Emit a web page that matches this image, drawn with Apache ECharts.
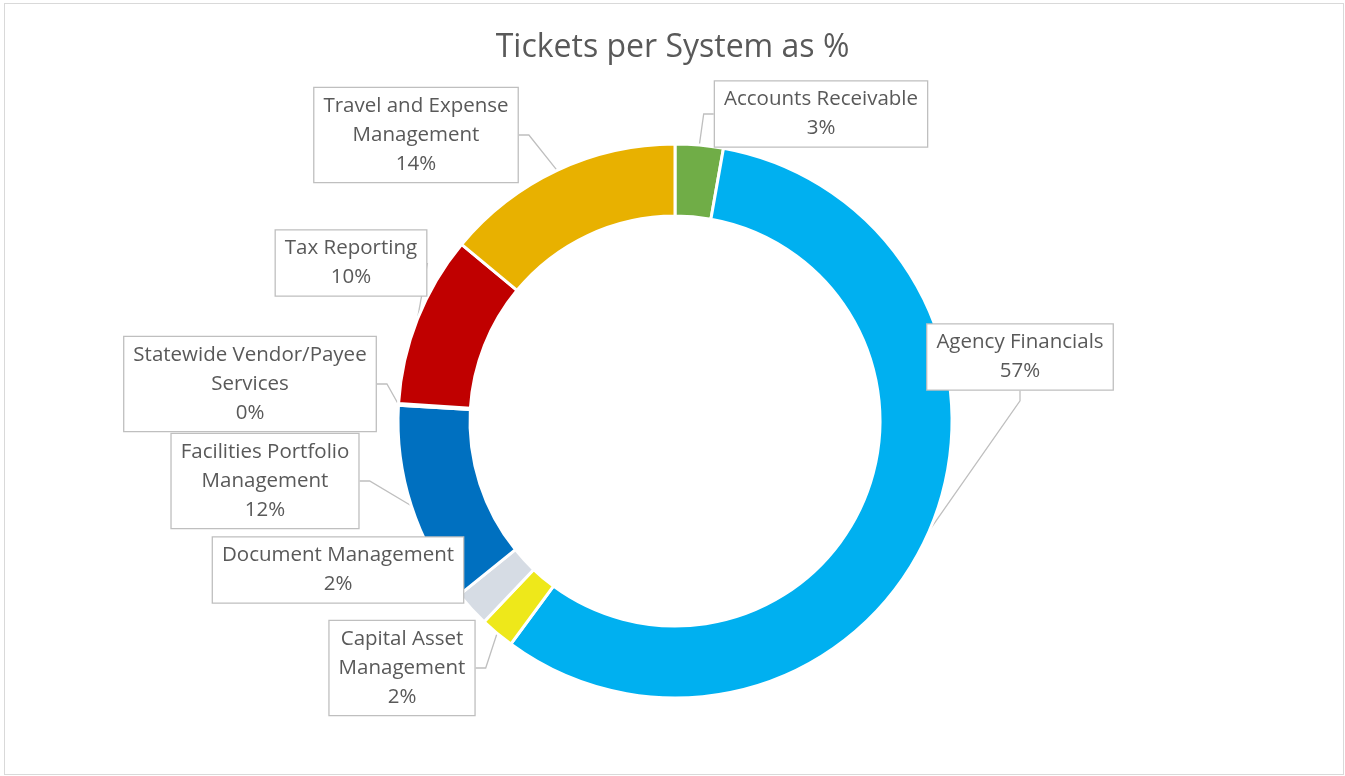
<!DOCTYPE html>
<html>
<head>
<meta charset="utf-8">
<title>Tickets per System as %</title>
<script src="https://cdn.jsdelivr.net/npm/echarts@6/dist/echarts.min.js"></script>
<style>
  html, body { margin: 0; padding: 0; background: #fff; }
  #chart { width: 1345px; height: 776px; }
  .frame {
    position: absolute; left: 4px; top: 3px; width: 1338px; height: 770px;
    border: 1px solid #d9d9d9; pointer-events: none;
  }
</style>
</head>
<body>
<div id="chart"></div>
<div class="frame"></div>
<script>
// data (percent of tickets)
const systems = [
  'Accounts Receivable',
  'Agency Financials',
  'Capital Asset Management',
  'Document Management',
  'Facilities Portfolio Management',
  'Statewide Vendor/Payee Services',
  'Tax Reporting',
  'Travel and Expense Management'
]
const shares = [2.8, 57.3, 2.0, 2.1, 11.7, 0.1, 10.0, 14.0]
const colors = ['#70ad47', '#00b0f0', '#eee81a', '#d6dce4', '#0070c0', '#7f7f7f', '#c00000', '#e8b100']

// how Excel wrapped the callout text
const wrapped = {
  'Capital Asset Management': 'Capital Asset\nManagement',
  'Facilities Portfolio Management': 'Facilities Portfolio\nManagement',
  'Statewide Vendor/Payee Services': 'Statewide Vendor/Payee\nServices',
  'Travel and Expense Management': 'Travel and Expense\nManagement'
}

// callout box centres, in pixels
const calloutPos = [
  [821, 114], [1020, 357], [402, 668], [338, 570],
  [265, 481], [250, 384], [351, 263], [416, 135]
]

const chart = echarts.init(document.getElementById('chart'))

const option = {
  animation: false,
  title: {
    text: 'Tickets per System as %',
    left: 'center',
    top: 27,
    textStyle: {
      fontFamily: 'Open Sans',
      fontSize: 32,
      fontWeight: 'normal',
      color: '#595959'
    }
  },
  series: [
    {
      name: 'Tickets',
      type: 'pie',
      center: [675, 421],
      radius: [205, 277],
      startAngle: 90,
      clockwise: true,
      avoidLabelOverlap: false,
      itemStyle: {
        borderColor: '#fff',
        borderWidth: 3
      },
      label: {
        show: true,
        position: 'outside',
        formatter: p => (wrapped[p.name] || p.name) + '\n' + Math.round(p.percent) + '%',
        fontFamily: 'Open Sans',
        fontSize: 20.5,
        lineHeight: 29,
        color: '#595959',
        align: 'center',
        backgroundColor: '#fff',
        borderColor: '#bfbfbf',
        borderWidth: 1.3,
        padding: [6, 9, 1, 9]
      },
      labelLine: {
        show: true,
        length: 10,
        length2: 10,
        lineStyle: { color: '#bfbfbf', width: 1.3 }
      },
      labelLayout: params => ({
        x: calloutPos[params.dataIndex][0],
        y: calloutPos[params.dataIndex][1],
        align: 'center',
        verticalAlign: 'middle'
      }),
      data: systems.map((name, i) => ({
        name,
        value: shares[i],
        itemStyle: { color: colors[i] }
      }))
    }
  ]
}

chart.setOption(option)
</script>
</body>
</html>
